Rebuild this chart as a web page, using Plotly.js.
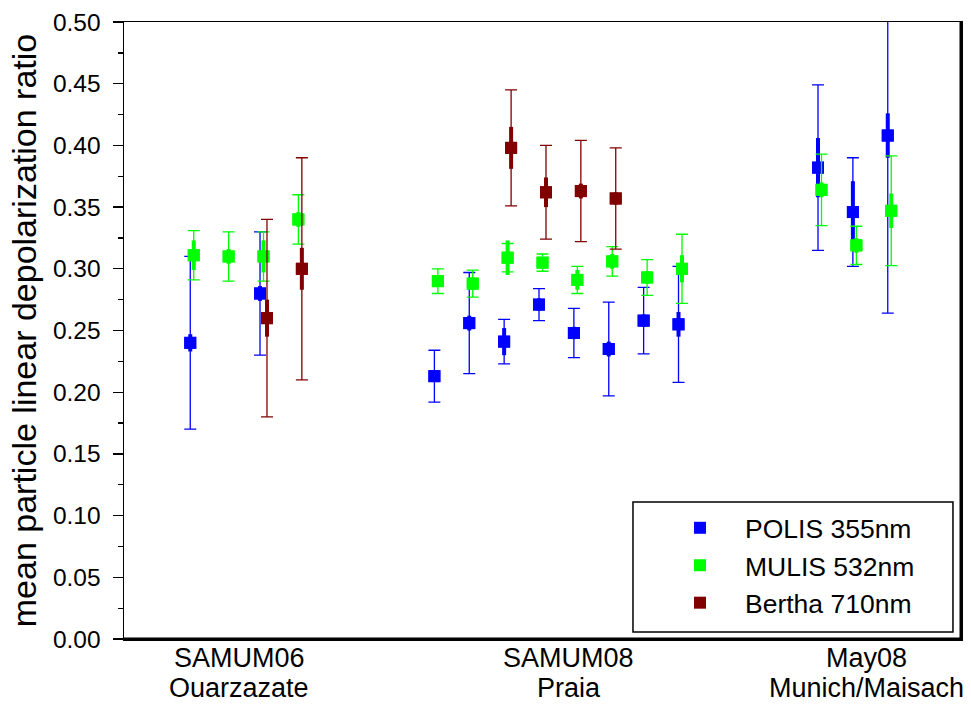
<!DOCTYPE html>
<html>
<head>
<meta charset="utf-8">
<script src="https://cdn.plot.ly/plotly-3.0.1.min.js"></script>
<style>
  html, body { margin: 0; padding: 0; background: #ffffff; }
  #chart { width: 971px; height: 706px; }
</style>
</head>
<body>
<div id="chart"></div>
<script>
// ---- data ----
const siteTickVals = [3.3, 12.75, 21.3];
const siteLine1 = ["SAMUM06", "SAMUM08", "May08"];
const siteLine2 = ["Ouarzazate", "Praia", "Munich/Maisach"];

const polisX   = [2, 4, 9, 10, 11, 12, 13, 14, 15, 16, 20, 21, 22];
const polisY   = [0.240, 0.280, 0.213, 0.256, 0.241, 0.271, 0.248, 0.235, 0.258, 0.255, 0.382, 0.346, 0.408];
const polisErr = [0.070, 0.050, 0.021, 0.041, 0.018, 0.013, 0.020, 0.038, 0.027, 0.047, 0.067, 0.044, 0.144];
const polisSd  = [0.007, 0.006, 0.003, 0.006, 0.011, 0.005, 0.005, 0.006, 0.005, 0.010, 0.024, 0.025, 0.018];

const mulisX   = [2, 3, 4, 5, 9, 10, 11, 12, 13, 14, 15, 16, 20, 21, 22];
const mulisY   = [0.311, 0.310, 0.310, 0.340, 0.290, 0.288, 0.309, 0.305, 0.291, 0.306, 0.293, 0.300, 0.364, 0.319, 0.347];
const mulisErr = [0.020, 0.020, 0.020, 0.020, 0.010, 0.011, 0.0115, 0.007, 0.011, 0.012, 0.0145, 0.028, 0.029, 0.0155, 0.0445];
const mulisSd  = [0.012, 0.006, 0.013, 0.006, 0.004, 0.005, 0.014, 0.004, 0.008, 0.006, 0.005, 0.011, 0.006, 0.006, 0.014];

const berthaX   = [4, 5, 11, 12, 13, 14];
const berthaY   = [0.260, 0.300, 0.398, 0.362, 0.363, 0.357];
const berthaErr = [0.080, 0.090, 0.047, 0.038, 0.041, 0.041];
const berthaSd  = [0.015, 0.017, 0.017, 0.012, 0.006, 0.005];

const seriesNames = ["POLIS 355nm", "MULIS 532nm", "Bertha 710nm"];

// ---- styles ----
const FONT = '"Liberation Sans", Arial, sans-serif';
const series = [
  {name: seriesNames[0], x: polisX,  y: polisY,  err: polisErr,  sd: polisSd,  color: '#0000ff', dx: -0.1},
  {name: seriesNames[1], x: mulisX,  y: mulisY,  err: mulisErr,  sd: mulisSd,  color: '#00ff00', dx: 0},
  {name: seriesNames[2], x: berthaX, y: berthaY, err: berthaErr, sd: berthaSd, color: '#800000', dx: 0.1}
];

const traces = [];
series.forEach(s => {
  const xs = s.x.map(v => v + s.dx);
  traces.push({
    type: 'scatter', mode: 'markers', x: xs, y: s.y, showlegend: false, hoverinfo: 'skip',
    marker: {symbol: 'square', size: 12, color: s.color, line: {width: 0}},
    error_y: {type: 'data', array: s.err, visible: true, color: s.color, thickness: 1.3, width: 6}
  });
  traces.push({
    type: 'scatter', mode: 'markers', x: xs, y: s.y, name: s.name, showlegend: true,
    marker: {symbol: 'square', size: 12, color: s.color, line: {width: 0}},
    error_y: {type: 'data', array: s.sd, visible: true, color: s.color, thickness: 4, width: 0}
  });
});

// category labels under the x axis (two rows)
const annotations = [];
siteTickVals.forEach((xv, i) => {
  annotations.push({xref: 'x', yref: 'paper', x: xv, y: -0.0308, yanchor: 'middle', xanchor: 'center',
    showarrow: false, text: siteLine1[i], font: {family: FONT, size: 27, color: '#000000'}});
  annotations.push({xref: 'x', yref: 'paper', x: xv, y: -0.0794, yanchor: 'middle', xanchor: 'center',
    showarrow: false, text: siteLine2[i], font: {family: FONT, size: 27, color: '#000000'}});
});

const layout = {
  width: 971, height: 706,
  margin: {l: 124, r: 10, t: 22, b: 67, pad: 0},
  paper_bgcolor: '#ffffff', plot_bgcolor: '#ffffff',
  font: {family: FONT, color: '#000000'},
  showlegend: true,
  legend: {
    x: 0.6344, y: 0.2187, xanchor: 'left', yanchor: 'top',
    bgcolor: 'rgba(0,0,0,0)', borderwidth: 0,
    itemwidth: 80, font: {family: FONT, size: 26.5, color: '#000000'},
    traceorder: 'normal'
  },
  xaxis: {
    range: [0, 24], showgrid: false, zeroline: false,
    showline: true, linecolor: '#000000', linewidth: 1.5, mirror: true,
    ticks: '', showticklabels: false
  },
  yaxis: {
    range: [0, 0.5], showgrid: false, zeroline: false,
    showline: true, linecolor: '#000000', linewidth: 1.5, mirror: true,
    ticks: 'outside', ticklen: 10, tickwidth: 1.3, tickcolor: '#000000',
    dtick: 0.05, tick0: 0, tickformat: '.2f', ticklabelstandoff: 7,
    minor: {dtick: 0.025, ticks: 'outside', ticklen: 5, tickwidth: 1.3, tickcolor: '#000000'},
    tickfont: {family: FONT, size: 24.5, color: '#000000'},
    title: {text: 'mean particle linear depolarization ratio', font: {family: FONT, size: 34, color: '#000000'}, standoff: 6}
  },
  annotations: annotations,
  shapes: [
    // heavier right and bottom frame edges
    {type: 'line', xref: 'paper', yref: 'paper', x0: 1, x1: 1, y0: 0, y1: 1, line: {color: '#000000', width: 3}},
    {type: 'line', xref: 'paper', yref: 'paper', x0: 0, x1: 1, y0: 0, y1: 0, line: {color: '#000000', width: 3}},
    // legend box
    {type: 'rect', xref: 'paper', yref: 'paper', x0: 0.6081, x1: 0.9904, y0: 0.0113, y1: 0.2220,
     line: {color: '#000000', width: 1.5}, fillcolor: 'rgba(0,0,0,0)'}
  ]
};

Plotly.newPlot('chart', traces, layout, {staticPlot: true, displayModeBar: false});
</script>
</body>
</html>
